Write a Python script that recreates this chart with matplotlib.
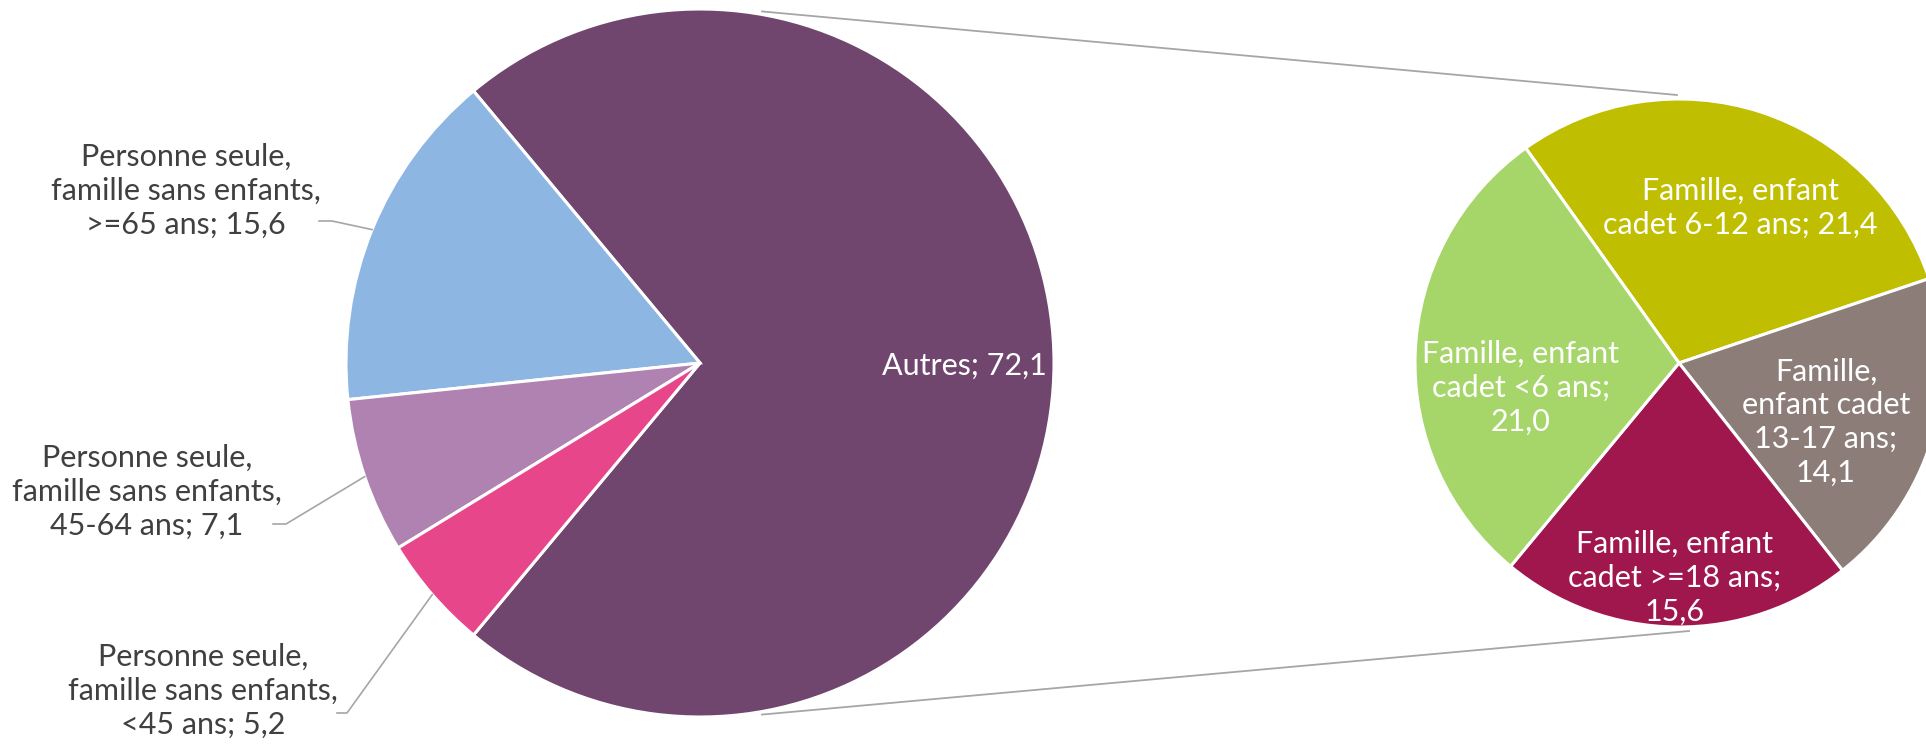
import numpy as np
import matplotlib
matplotlib.use('Agg')
from matplotlib import pyplot as plt

plt.rcParams['font.family'] = ['Lato', 'DejaVu Sans']

# camembert principal
main_labels = ['Autres',
               'Personne seule,\nfamille sans enfants,\n>=65 ans',
               'Personne seule,\nfamille sans enfants,\n45-64 ans',
               'Personne seule,\nfamille sans enfants,\n<45 ans']
main_values = [72.1, 15.6, 7.1, 5.2]
main_colors = ['#70466F', '#8DB6E3', '#AF82B2', '#E8468A']

# détail de "Autres"
sub_labels = ['Famille, enfant\ncadet 6-12 ans',
              'Famille,\nenfant cadet\n13-17 ans',
              'Famille, enfant\ncadet >=18 ans',
              'Famille, enfant\ncadet <6 ans']
sub_values = [21.4, 14.1, 15.6, 21.0]
sub_colors = ['#BFBE00', '#8C7D79', '#A0174D', '#A6D66A']

W, H = 1926, 745


def fmt(v):
    return f"{v:.1f}".replace('.', ',')


def P(x, y):
    # coordonnées pixel (y vers le bas) -> coordonnées axes
    return x, H - y


fig = plt.figure(figsize=(W / 100, H / 100), dpi=100)
ax = fig.add_axes([0, 0, 1, 1])
ax.set_xlim(0, W)
ax.set_ylim(0, H)
ax.set_aspect('equal')
ax.axis('off')

c1, r1 = P(700, 363), 354
c2, r2 = P(1679, 363), 264

start1 = -180 * main_values[0] / 100
ax.pie(main_values, colors=main_colors, center=c1, radius=r1, startangle=start1,
       counterclock=True, wedgeprops=dict(edgecolor='white', linewidth=2.2), frame=True)
ax.pie(sub_values, colors=sub_colors, center=c2, radius=r2, startangle=125.5,
       counterclock=False, wedgeprops=dict(edgecolor='white', linewidth=2.2), frame=True)
ax.set_xlim(0, W)
ax.set_ylim(0, H)
ax.axis('off')

# traits de liaison entre les deux camemberts
for s in (1, -1):
    a = np.deg2rad(80 * s)
    x0, y0 = c1[0] + (r1 + 3) * np.cos(a), c1[1] + (r1 + 3) * np.sin(a)
    x1, y1 = c2[0] + 2 * (1 if s < 0 else -1) + (8 if s < 0 else 0), c2[1] + s * (r2 + 4)
    ax.plot([x0, x1], [y0, y1], color='#A6A6A6', lw=1.3, zorder=0)

# étiquettes du camembert principal
fs = 22
ax.text(*P(964, 366), f"{main_labels[0]}; {fmt(main_values[0])}", color='white',
        fontsize=fs, ha='center', va='center')

text_pos = [None, (186, 191), (147, 492), (203, 691)]
elbow = [None, (319, 332, 221), (273, 286, 524), (337, 347, 713)]
angles = np.cumsum([0] + main_values)
for i in range(1, 4):
    ax.text(*P(*text_pos[i]), f"{main_labels[i]}; {fmt(main_values[i])}", color='#404040',
            fontsize=fs, ha='center', va='center', linespacing=1.25)
    mid = np.deg2rad(start1 + 3.6 * (angles[i] + angles[i + 1]) / 2)
    ex, ey = c1[0] + r1 * np.cos(mid), c1[1] + r1 * np.sin(mid)
    xa, xb, yy = elbow[i]
    ax.plot([xa, xb, ex], [H - yy, H - yy, ey], color='#A6A6A6', lw=1.2)

# étiquettes du second camembert
sub_pos = [(1740, 208), (1826, 422), (1675, 578), (1521, 388)]
for lab, v, pos in zip(sub_labels, sub_values, sub_pos):
    sep = '\n' if lab.count('\n') >= 2 or '>=' in lab or '<6' in lab else ''
    txt = f"{lab};{sep if sep else ' '}{fmt(v)}"
    ax.text(*P(*pos), txt, color='white', fontsize=fs, ha='center', va='center',
            linespacing=1.25)

fig.savefig('out.png', dpi=100)
